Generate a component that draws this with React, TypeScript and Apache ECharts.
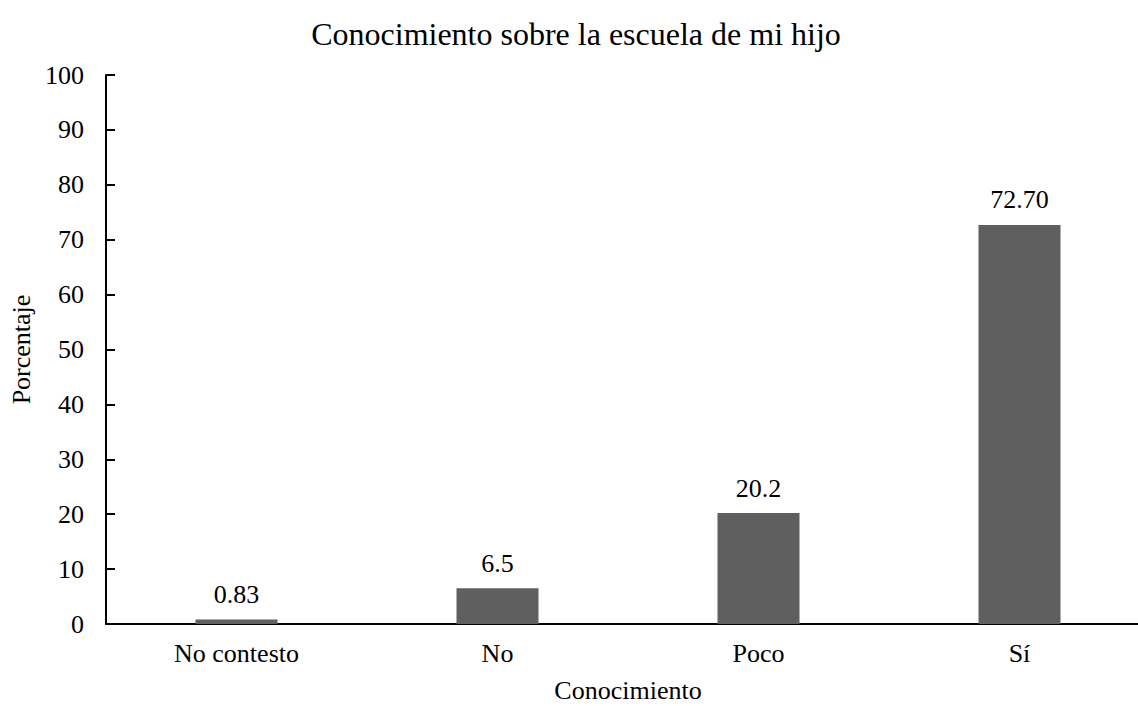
import React, { useEffect, useRef } from "react";
import * as echarts from "echarts";

// Survey answers: knowledge about my child's school
const categories = ["No contesto", "No", "Poco", "Sí"];
const percentages = [0.83, 6.5, 20.2, 72.7];
const valueLabels = ["0.83", "6.5", "20.2", "72.70"];
const yTicks = { min: 0, max: 100, interval: 10 };

const FONT = "'Liberation Serif', 'Times New Roman', serif";

export default function App() {
  const ref = useRef<HTMLDivElement>(null);

  useEffect(() => {
    if (!ref.current) return;
    const chart = echarts.init(ref.current, null, { renderer: "svg" });
    chart.setOption({
      animation: false,
      backgroundColor: "#ffffff",
      textStyle: { fontFamily: FONT, color: "#000" },
      graphic: [
        {
          type: "text",
          x: 576,
          y: 34,
          style: {
            text: "Conocimiento sobre la escuela de mi hijo",
            fontFamily: FONT,
            fontSize: 32,
            fill: "#000",
            textAlign: "center",
            textVerticalAlign: "middle",
          },
        },
      ],
      grid: { left: 106, top: 75, width: 1044, bottom: 82, outerBoundsMode: "none", containLabel: false },
      xAxis: {
        type: "category",
        data: categories,
        name: "Conocimiento",
        nameLocation: "middle",
        nameGap: 53,
        nameTextStyle: { fontFamily: FONT, fontSize: 26, color: "#000" },
        axisLine: { lineStyle: { color: "#000", width: 2 } },
        axisTick: { show: false },
        axisLabel: { fontFamily: FONT, fontSize: 26, color: "#000", margin: 16 },
      },
      yAxis: {
        type: "value",
        min: yTicks.min,
        max: yTicks.max,
        interval: yTicks.interval,
        name: "Porcentaje",
        nameLocation: "middle",
        nameGap: 70,
        nameTextStyle: { fontFamily: FONT, fontSize: 26, color: "#000" },
        axisLine: { show: true, lineStyle: { color: "#000", width: 2 } },
        axisTick: { show: true, inside: true, length: 9, lineStyle: { color: "#000", width: 2 } },
        axisLabel: { fontFamily: FONT, fontSize: 26, color: "#000", margin: 22 },
        splitLine: { show: false },
      },
      series: [
        {
          type: "bar",
          data: percentages,
          barWidth: 82,
          itemStyle: { color: "#5f5f5f" },
          label: {
            show: true,
            position: "top",
            distance: 12,
            fontFamily: FONT,
            fontSize: 26,
            color: "#000",
            formatter: (p: any) => valueLabels[p.dataIndex],
          },
        },
      ],
    });
    return () => chart.dispose();
  }, []);

  return (
    <div
      ref={ref}
      style={{ position: "fixed", left: 0, top: 0, width: 1138, height: 706 }}
    />
  );
}
